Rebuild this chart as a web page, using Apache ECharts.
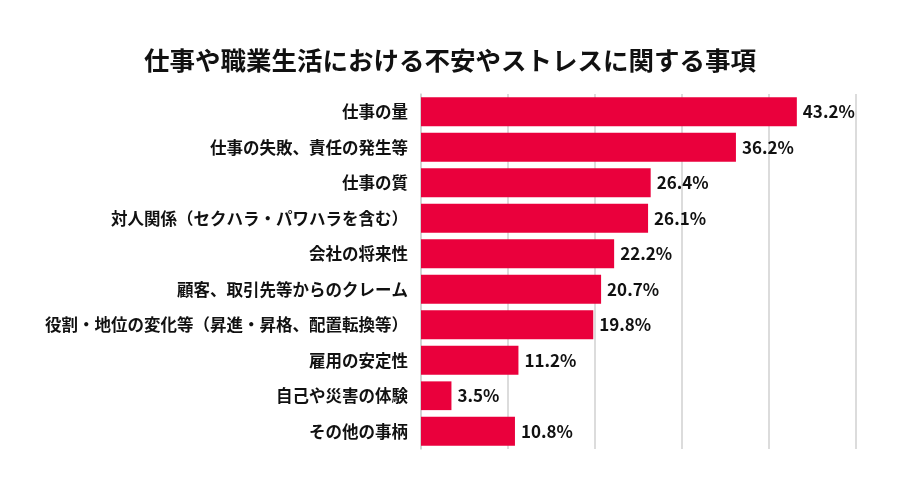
<!DOCTYPE html>
<html>
<head>
<meta charset="utf-8">
<script src="https://cdn.jsdelivr.net/npm/echarts@6/dist/echarts.min.js"></script>
<style>
  html, body { margin: 0; padding: 0; background: #fff; }
  #chart { width: 900px; height: 500px; }
</style>
</head>
<body>
<div id="chart"></div>
<script>
var chartTitle = '仕事や職業生活における不安やストレスに関する事項';

var categories = [
    '仕事の量',
    '仕事の失敗、責任の発生等',
    '仕事の質',
    '対人関係（セクハラ・パワハラを含む）',
    '会社の将来性',
    '顧客、取引先等からのクレーム',
    '役割・地位の変化等（昇進・昇格、配置転換等）',
    '雇用の安定性',
    '自己や災害の体験',
    'その他の事柄'
];

var values = [43.2, 36.2, 26.4, 26.1, 22.2, 20.7, 19.8, 11.2, 3.5, 10.8];

var fontFamily = '"Noto Sans CJK JP", "Noto Sans", sans-serif';

var myChart = echarts.init(document.getElementById('chart'));

var option = {
    animation: false,
    backgroundColor: '#ffffff',
    title: {
        text: chartTitle,
        left: 'center',
        top: 43,
        textStyle: {
            fontFamily: fontFamily,
            fontSize: 25.5,
            fontWeight: 'bold',
            color: '#111111'
        }
    },
    grid: {
        left: 421,
        width: 435,
        top: 94,
        height: 355
    },
    xAxis: {
        type: 'value',
        min: 0,
        max: 50,
        interval: 10,
        axisLabel: { show: false },
        axisLine: { show: false },
        axisTick: { show: false },
        splitLine: {
            show: true,
            lineStyle: { color: '#d0d0d0', width: 1.5 }
        }
    },
    yAxis: {
        type: 'category',
        inverse: true,
        data: categories,
        axisLine: { show: true, lineStyle: { color: '#d0d0d0', width: 1.5 } },
        axisTick: { show: false },
        axisLabel: {
            margin: 13,
            fontFamily: fontFamily,
            fontSize: 16.5,
            fontWeight: 'bold',
            color: '#111111'
        }
    },
    series: [
        {
            name: '割合',
            type: 'bar',
            data: values,
            barCategoryGap: '19%',
            itemStyle: { color: '#EA003C' },
            label: {
                show: true,
                position: 'right',
                distance: 6,
                formatter: function (p) { return p.value.toFixed(1) + '%'; },
                fontFamily: fontFamily,
                fontSize: 17,
                fontWeight: 'bold',
                color: '#111111'
            }
        }
    ]
};

myChart.setOption(option);
</script>
</body>
</html>
